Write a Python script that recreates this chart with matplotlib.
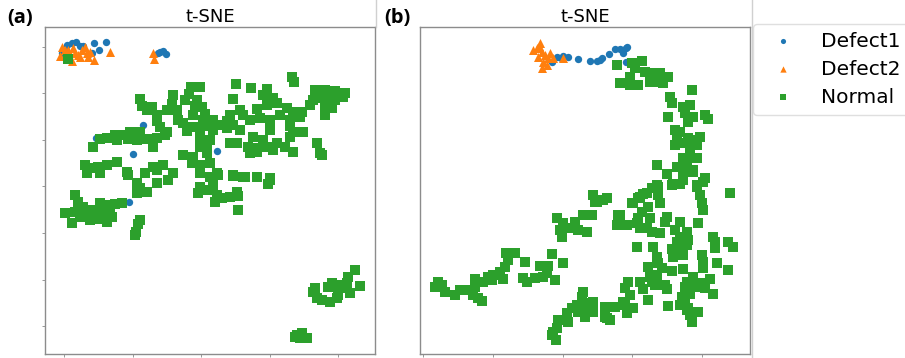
import matplotlib
matplotlib.use("Agg")
import matplotlib.pyplot as plt
from matplotlib.lines import Line2D
import numpy as np

# ---------------- data (t-SNE embedding coordinates) -------------
labels = ["Defect1", "Defect2", "Normal"]
colors = ["#1f77b4", "#ff7f0e", "#2ca02c"]
markers = ["o", "^", "s"]

# panel (a)
a_defect1 = [(62, 53), (67, 45), (72, 43), (76, 42), (80, 46), (83, 46), (92, 53), (94, 43),
             (99, 50), (106, 42), (158, 53), (160, 52), (163, 51), (166, 54),
             (143, 125), (96, 138), (133, 154), (217, 151), (129, 202)]
a_defect2 = [(60, 56), (62, 47), (65, 50), (68, 50), (72, 61), (73, 48), (75, 53), (78, 55),
             (80, 57), (82, 50), (85, 47), (87, 53), (88, 57), (90, 52), (94, 60), (110, 52),
             (153, 53), (154, 59)]
a_normal = [
    (68, 59),
    (292, 77), (294, 82), (236, 84), (191, 87), (200, 87), (251, 88), (267, 89), (315, 90),
    (325, 90), (335, 91), (345, 93), (343, 97), (189, 94), (173, 95), (233, 99), (263, 95),
    (273, 98), (140, 99), (185, 100), (197, 100), (313, 100), (320, 98), (328, 99), (335, 100),
    (142, 106), (152, 107), (172, 104), (195, 106), (202, 107), (267, 105), (277, 103),
    (310, 105), (325, 107), (332, 108), (147, 110), (167, 110), (177, 110), (240, 110),
    (257, 109), (287, 108), (293, 112), (302, 112), (325, 115), (157, 115), (193, 115),
    (205, 114), (230, 115), (243, 115), (280, 115), (300, 117), (157, 121), (178, 120),
    (183, 123), (203, 120), (213, 120), (227, 121), (250, 120), (260, 118), (270, 120),
    (290, 120), (160, 127), (193, 127), (208, 126), (217, 125), (233, 125), (290, 126),
    (130, 132), (115, 135), (122, 135), (140, 132), (167, 132), (187, 131), (200, 130),
    (213, 130), (227, 128), (240, 130), (270, 130), (293, 132), (303, 132), (100, 139),
    (107, 138), (117, 140), (128, 139), (137, 140), (147, 139), (157, 138), (165, 135),
    (200, 137), (210, 140), (253, 137), (263, 140), (277, 143), (290, 137), (93, 147),
    (153, 147), (200, 147), (207, 143), (230, 143), (237, 143), (248, 147), (257, 148),
    (267, 147), (273, 150), (285, 147), (317, 143), (320, 153), (183, 155), (193, 157),
    (207, 153), (250, 153), (257, 152), (293, 152), (322, 155), (85, 165), (90, 168),
    (98, 167), (107, 165), (117, 162), (153, 167), (163, 165), (192, 163), (200, 165),
    (210, 163), (127, 172), (145, 173), (157, 170), (173, 173), (200, 173), (217, 173),
    (233, 175), (243, 177), (257, 177), (270, 178), (87, 173), (100, 173),
    (128, 175), (137, 183), (157, 183), (168, 180), (140, 188), (147, 192), (137, 193),
    (210, 177), (218, 175), (233, 176), (245, 177), (270, 180), (268, 184), (200, 187),
    (198, 193), (207, 190), (213, 185), (217, 195), (215, 202), (222, 198), (230, 197),
    (237, 192), (238, 196), (238, 210), (75, 195), (78, 202), (65, 213), (75, 212),
    (72, 223), (83, 207), (90, 210), (100, 203), (107, 205), (115, 204), (122, 203),
    (80, 217), (90, 220), (98, 219), (107, 222), (112, 217), (103, 212), (95, 213),
    (110, 210), (140, 220), (138, 224), (136, 232), (135, 235),
    (315, 288), (313, 292), (317, 298), (322, 300), (330, 302), (337, 298), (338, 295),
    (332, 283), (328, 287), (340, 285), (347, 283), (348, 277), (355, 270), (360, 286),
    (350, 293), (345, 288), (337, 286),
    (297, 335), (302, 333), (307, 338), (300, 338), (295, 337)]

# panel (b)
b_defect1 = [(552, 62), (557, 57), (561, 58), (563, 56), (568, 57), (578, 59), (590, 61),
             (597, 61), (600, 60), (602, 58), (609, 54), (615, 49), (620, 49), (623, 50),
             (626, 48), (627, 47), (623, 53), (626, 62)]
b_defect2 = [(533, 50), (537, 48), (540, 43), (539, 46), (542, 52), (538, 57), (545, 55),
             (548, 58), (550, 53), (543, 62), (547, 65), (542, 68), (553, 58), (563, 58)]
b_normal = [
    (617, 65), (632, 63), (642, 61), (635, 68), (645, 72), (653, 73), (660, 73), (668, 77),
    (630, 77), (620, 83), (630, 85), (638, 85), (650, 82), (657, 82), (663, 83), (692, 90),
    (670, 97), (672, 103), (683, 107), (690, 105), (685, 113), (693, 117), (688, 122),
    (705, 115), (708, 119), (668, 117), (675, 130), (680, 132), (677, 140), (683, 143),
    (675, 145), (690, 147), (697, 145), (700, 137), (695, 140), (688, 138), (683, 158),
    (690, 157), (697, 158), (677, 167), (687, 167), (693, 170), (657, 165), (667, 174),
    (683, 173), (683, 180), (673, 184), (680, 184), (705, 178), (703, 182), (697, 185),
    (657, 185), (652, 188),
    (693, 172), (672, 185), (658, 187), (697, 187), (700, 195), (730, 193), (643, 194),
    (658, 195), (638, 198), (632, 203), (660, 203), (648, 207), (702, 203), (703, 210),
    (642, 212), (638, 218), (618, 215), (667, 217), (650, 218), (617, 225), (623, 225),
    (637, 223), (640, 228), (647, 228), (652, 232), (660, 233), (665, 222), (680, 222),
    (698, 223), (675, 230), (687, 232), (680, 237), (677, 242), (688, 240), (713, 237),
    (715, 242), (728, 242), (733, 247), (672, 249), (680, 247), (687, 245), (637, 247),
    (653, 247), (715, 248), (673, 257), (683, 255), (702, 255), (703, 262), (717, 263),
    (657, 257), (658, 263), (648, 267), (662, 268), (672, 271), (683, 269), (703, 268),
    (728, 270), (650, 277), (657, 275), (693, 277), (710, 279), (628, 282), (640, 282),
    (652, 282), (655, 285), (665, 285), (687, 282), (700, 283), (625, 288), (643, 289),
    (667, 289), (685, 287), (695, 287), (705, 288), (713, 294), (630, 295), (682, 297),
    (690, 294), (648, 300), (623, 302), (685, 302), (605, 307), (615, 307), (625, 305),
    (633, 308), (668, 306), (680, 305), (688, 308), (698, 312), (593, 303), (593, 312),
    (627, 313), (605, 317), (610, 320), (690, 315), (692, 322),
    (593, 195), (595, 202), (592, 215), (583, 215), (557, 218), (563, 223), (575, 222),
    (570, 228), (560, 230), (578, 230), (587, 232), (562, 237), (506, 253), (515, 253),
    (508, 260), (525, 262), (552, 254), (563, 263), (540, 266), (548, 266), (505, 267),
    (500, 272), (493, 275), (488, 277), (547, 273), (475, 279), (503, 279), (523, 278),
    (535, 278), (543, 277), (555, 280), (492, 280), (483, 282), (527, 282), (438, 282),
    (435, 287), (442, 285), (475, 287), (460, 290), (467, 290), (445, 292), (455, 295),
    (473, 295), (478, 298), (482, 301), (583, 292), (582, 297), (577, 305), (585, 303),
    (593, 302), (572, 308), (587, 310), (593, 312), (578, 312), (567, 313), (558, 320),
    (568, 322), (585, 317), (557, 328), (552, 335), (556, 340), (553, 332),
    (607, 198), (603, 200), (597, 202), (620, 215), (627, 225), (633, 203), (640, 197),
    (647, 193), (687, 310), (607, 318)]

panel_letters = ["(a)", "(b)"]
title_text = "t-SNE"

# ---------------- figure ---------------------------------------------------------------
W, H = 905, 358
fig = plt.figure(figsize=(W / 100, H / 100), dpi=100)

def fx(px):
    return px / W

def fy(py):
    return 1 - py / H

ax_a = fig.add_axes([fx(45), fy(354), (375 - 45) / W, (354 - 26.7) / H])
ax_b = fig.add_axes([fx(420), fy(354), (750 - 420) / W, (354 - 26.7) / H])

sizes = [28, 42, 46]

def draw(ax, series, xlim, ylim, xticks, yticks):
    handles = []
    for pts, lab, c, m, s in zip(series, labels, colors, markers, sizes):
        arr = np.array(pts, dtype=float)
        h = ax.scatter(arr[:, 0], arr[:, 1], s=s, c=c, marker=m, linewidths=0, label=lab)
        handles.append(h)
    ax.set_xlim(*xlim)
    ax.set_ylim(*ylim)
    ax.set_xticks(xticks)
    ax.set_yticks(yticks)
    ax.tick_params(labelleft=False, labelbottom=False, length=2.5, width=0.6,
                   color="#888888")
    for sp in ax.spines.values():
        sp.set_color("#8c8c8c")
        sp.set_linewidth(1.0)
    ax.set_title(title_text, fontsize=13, pad=3.5)
    return handles

handles = draw(ax_a, [a_defect1, a_defect2, a_normal], (45, 375), (354, 26.7),
               [64, 132.7, 201, 270, 338.3], [46.7, 93.3, 140, 186, 233.3, 280, 326])
draw(ax_b, [b_defect1, b_defect2, b_normal], (420, 750), (354, 26.7),
     [423.3, 493.3, 562.7, 632.3, 701.7], [])

fig.text(fx(20), fy(18), panel_letters[0], fontsize=14.5, fontweight="bold",
         ha="center", va="center", family=["Open Sans", "DejaVu Sans"])
fig.text(fx(397), fy(18), panel_letters[1], fontsize=14.5, fontweight="bold",
         ha="center", va="center", family=["Open Sans", "DejaVu Sans"])

# light separator lines from the original composite
fig.add_artist(Line2D([fx(752), fx(752)], [0, 1], transform=fig.transFigure,
                      color="#d0d0d0", lw=1.0))
fig.add_artist(Line2D([fx(375.5), fx(375.5)], [fy(26.7), 1], transform=fig.transFigure,
                      color="#d0d0d0", lw=1.0))

fig.legend(handles, labels, loc="upper left",
           bbox_to_anchor=(fx(753), fy(121.5), fx(180), (121.5 - 23.5) / H),
           mode="expand", bbox_transform=fig.transFigure, borderaxespad=0, fontsize=14.5,
           markerscale=0.7, labelspacing=0.45, handlelength=2.2, handletextpad=0.8,
           frameon=True, edgecolor="#d8d8d8")

fig.savefig("out.png", dpi=100)
